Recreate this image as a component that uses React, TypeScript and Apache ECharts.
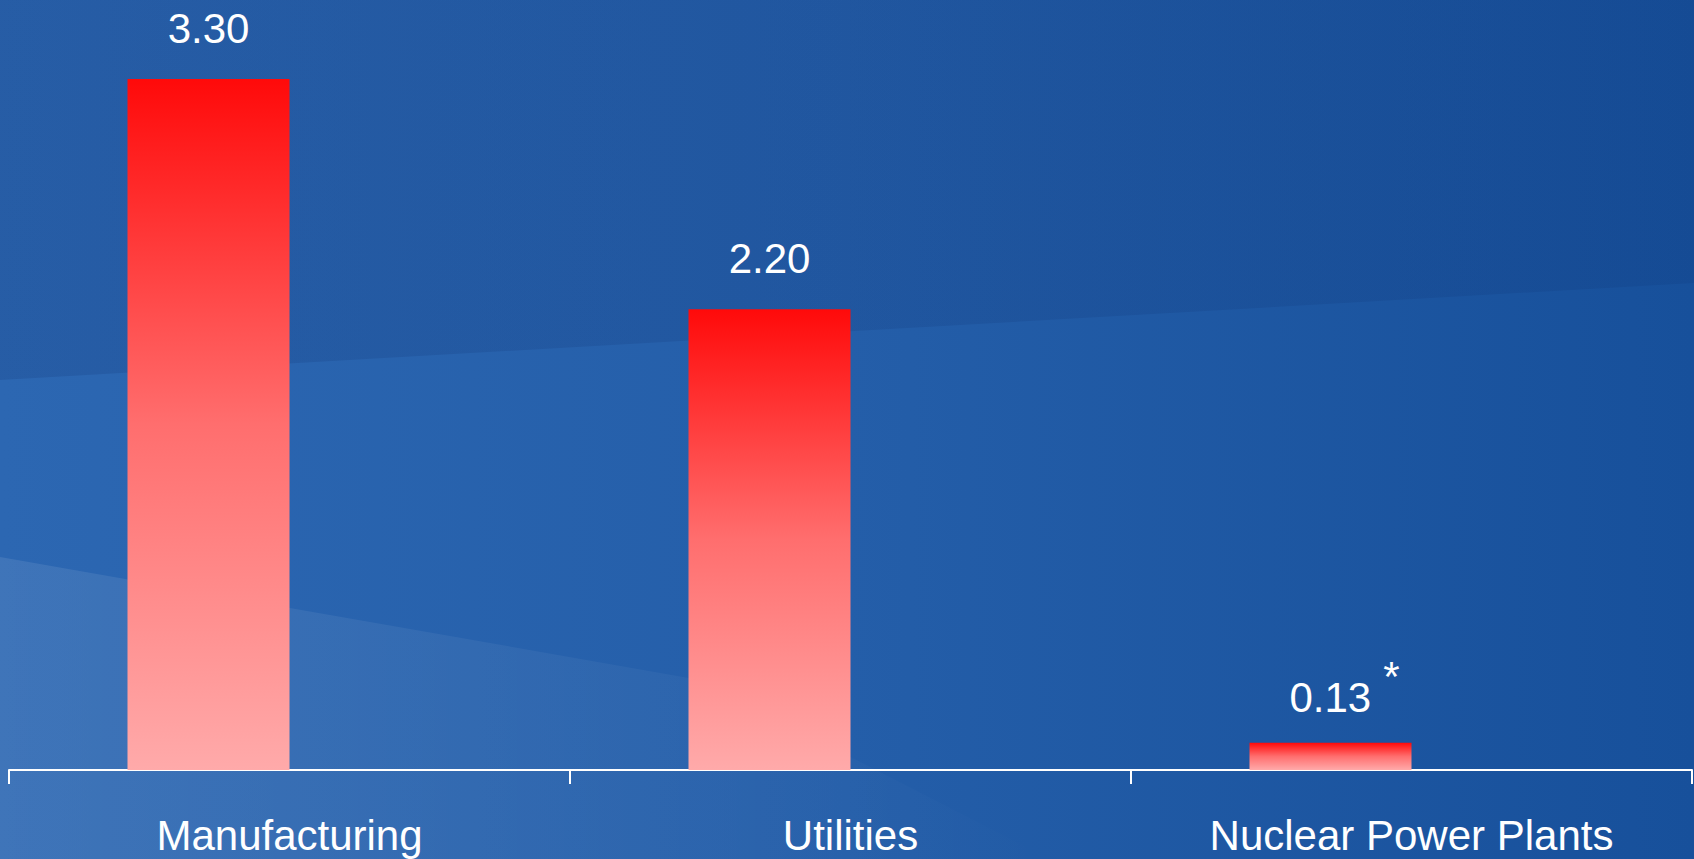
import React, { useEffect, useRef } from "react";
import * as echarts from "echarts";

const categories = ["Manufacturing", "Utilities", "Nuclear Power Plants"];
const values = [3.3, 2.2, 0.13];
const footnotes = ["", "", "*"];
const yMax = 3.3;

const FONT = "'Liberation Sans', Arial, sans-serif";

export default function App() {
  const ref = useRef<HTMLDivElement>(null);

  useEffect(() => {
    if (!ref.current) return;
    const chart = echarts.init(ref.current, null, { renderer: "svg" });

    const barGradient = new echarts.graphic.LinearGradient(0, 0, 0, 1, [
      { offset: 0, color: "#ff0a0a" },
      { offset: 0.5, color: "#ff6e6e" },
      { offset: 1, color: "#ffaaaa" },
    ]);

    const data = values.map((v, i) => {
      const note = footnotes[i];
      const item: any = { value: v };
      if (note) {
        item.label = {
          formatter: (p: any) => `{v|${Number(p.value).toFixed(2)}}{s|${note}}`,
          offset: [14, 27],
        };
      }
      return item;
    });

    chart.setOption({
      animation: false,
      backgroundColor: new echarts.graphic.LinearGradient(0, 0, 1, 0, [
        { offset: 0, color: "#2c67b2" },
        { offset: 0.5, color: "#245ea9" },
        { offset: 1, color: "#17509b" },
      ]),
      graphic: [
        {
          type: "polygon",
          silent: true,
          z: -10,
          shape: { points: [[0, 0], [1694, 0], [1694, 283], [0, 380]] },
          style: {
            fill: new echarts.graphic.LinearGradient(0, 0, 1, 0, [
              { offset: 0, color: "rgba(5,30,90,0.14)" },
              { offset: 1, color: "rgba(5,30,90,0.10)" },
            ]),
          },
        },
        {
          type: "polygon",
          silent: true,
          z: -9,
          shape: { points: [[0, 557], [700, 680], [1050, 859], [0, 859]] },
          style: {
            fill: new echarts.graphic.LinearGradient(0, 0, 1, 0, [
              { offset: 0, color: "rgba(255,255,255,0.09)" },
              { offset: 0.7, color: "rgba(255,255,255,0.03)" },
              { offset: 1, color: "rgba(255,255,255,0.0)" },
            ]),
          },
        },
      ],
      grid: { left: 9, right: 2, top: 79, bottom: 89, containLabel: false },
      xAxis: {
        type: "category",
        data: categories,
        axisLine: { show: true, lineStyle: { color: "#ffffff", width: 2 } },
        axisTick: { show: true, length: 14, lineStyle: { color: "#ffffff", width: 2 } },
        axisLabel: {
          color: "#ffffff",
          fontFamily: FONT,
          fontSize: 42,
          margin: 44,
          interval: 0,
        },
      },
      yAxis: {
        type: "value",
        min: 0,
        max: yMax,
        show: false,
        splitLine: { show: false },
      },
      series: [
        {
          type: "bar",
          data,
          barWidth: 162,
          barGap: "0%",
          itemStyle: { color: barGradient },
          label: {
            show: true,
            position: "top",
            distance: 30,
            color: "#ffffff",
            fontFamily: FONT,
            fontSize: 42,
            formatter: (p: any) => Number(p.value).toFixed(2),
            rich: {
              v: { color: "#ffffff", fontFamily: FONT, fontSize: 42 },
              s: {
                color: "#ffffff",
                fontFamily: FONT,
                fontSize: 42,
                padding: [0, 0, 42, 12],
              },
            },
          },
        },
        {
          type: "bar",
          data: values.map(() => null),
          barWidth: 162,
          barGap: "0%",
        },
      ],
    });

    return () => chart.dispose();
  }, []);

  return (
    <div
      ref={ref}
      style={{ position: "fixed", left: 0, top: 0, width: 1694, height: 859 }}
    />
  );
}
